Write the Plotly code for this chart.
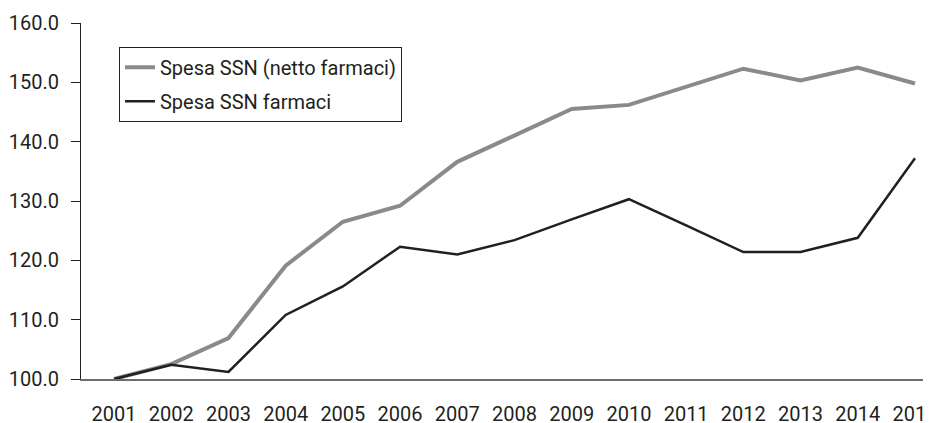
import plotly.graph_objects as go

years = list(range(2001, 2016))
tick_labels = [str(y) for y in years]
spesa_netto = [100.0, 102.5, 106.9, 119.1, 126.5, 129.2, 136.6, 141.0, 145.5, 146.2, 149.3, 152.3, 150.3, 152.5, 149.8]
spesa_farmaci = [100.0, 102.4, 101.2, 110.8, 115.6, 122.3, 121.0, 123.4, 126.9, 130.3, 125.9, 121.4, 121.4, 123.8, 137.2]

FONT = "Roboto, sans-serif"

fig = go.Figure()
fig.add_trace(go.Scatter(x=years, y=spesa_netto, mode="lines",
                         name="Spesa SSN (netto farmaci)", legendgroup="a",
                         line=dict(color="#8a8a8a", width=4)))
fig.add_trace(go.Scatter(x=years, y=spesa_farmaci, mode="lines",
                         name="Spesa SSN farmaci", legendgroup="b",
                         line=dict(color="#231f20", width=2.5)))

fig.update_layout(
    width=923, height=415,
    margin=dict(l=73, r=0, t=15, b=44),
    paper_bgcolor="white", plot_bgcolor="white",
    font=dict(family=FONT, size=20, color="#231f20"),
    showlegend=True,
    legend=dict(x=0.0447, y=0.933, xanchor="left", yanchor="top",
                bordercolor="#231f20", borderwidth=1, bgcolor="white",
                font=dict(family=FONT, size=20, color="#231f20"),
                tracegroupgap=5),
    xaxis=dict(range=[2000.423, 2015.28], tickmode="array", tickvals=years,
               ticktext=tick_labels, showgrid=False, zeroline=False,
               showline=True, linecolor="#6d6d6d", linewidth=1.5,
               ticks="outside", ticklen=16, tickcolor="rgba(0,0,0,0)",
               ticklabeloverflow="allow", automargin=False),
    yaxis=dict(range=[100, 160], tickmode="array",
               tickvals=[100, 110, 120, 130, 140, 150, 160],
               ticktext=["100.0", "110.0", "120.0", "130.0", "140.0", "150.0", "160.0"],
               showgrid=False, zeroline=False, showline=True,
               linecolor="#231f20", linewidth=1.2, ticks="outside",
               ticklen=9, tickwidth=1.2, tickcolor="#231f20",
               ticklabelstandoff=8, automargin=False),
)

fig.write_html("out.html")
